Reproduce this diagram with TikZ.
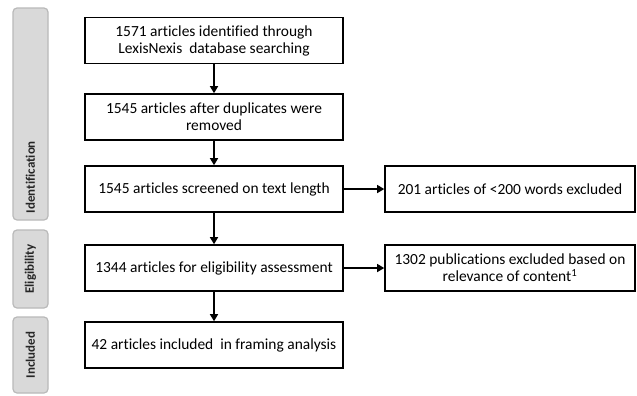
\documentclass[tikz,border=0pt]{standalone}
\usepackage{fontspec}
\setmainfont{Carlito}[Ligatures=NoCommon]
\usetikzlibrary{arrows.meta}

\begin{document}
\begin{tikzpicture}[x=1bp, y=-1bp,
		box/.style={draw, line width=1.6bp, minimum width=258bp, minimum height=46bp,
			align=center, inner sep=2pt, font=\fontsize{15.5}{17}\selectfont},
		side/.style={box, minimum width=250bp},
		tab/.style={draw=gray!55, fill=gray!30, line width=1.2bp, rounded corners=4bp,
			minimum height=35bp, rotate=90, font=\bfseries\fontsize{13}{15}\selectfont, text=black!85},
		arr/.style={-{Triangle[length=7bp,width=8bp]}, line width=1.3bp}]
		\useasboundingbox (0,0) rectangle (637,395);

		% fasi
		\node[tab, minimum width=212bp, text width=198bp, align=left] (ident) at (30.5, 114) {Identification};
		\node[tab, minimum width=78bp] (elig) at (30.5, 269) {Eligibility};
		\node[tab, minimum width=76bp] (incl) at (30.5, 355) {Included};

		% schema principale
		\node[box] (found) at (214, 40.5) {1571 articles identified through\\LexisNexis\ \ database searching};
		\node[box] (dupl) at (214, 117) {1545 articles after duplicates were\\removed};
		\node[box] (screen) at (214, 189) {1545 articles screened on text length};
		\node[box] (assess) at (214, 268) {1344 articles for eligibility assessment};
		\node[box] (framing) at (214, 345) {42 articles included\ \ in framing analysis};

		% esclusi
		\node[side] (short) at (510, 189) {201 articles of <200 words excluded};
		\node[side] (irrel) at (510, 268) {1302 publications excluded based on\\relevance of content\textsuperscript{1}};

		% frecce
		\draw[arr] (found) -- (dupl);
		\draw[arr] (dupl) -- (screen);
		\draw[arr] (screen) -- (assess);
		\draw[arr] (assess) -- (framing);
		\draw[arr] (screen) -- (short);
		\draw[arr] (assess) -- (irrel);
	\end{tikzpicture}
\end{document}
